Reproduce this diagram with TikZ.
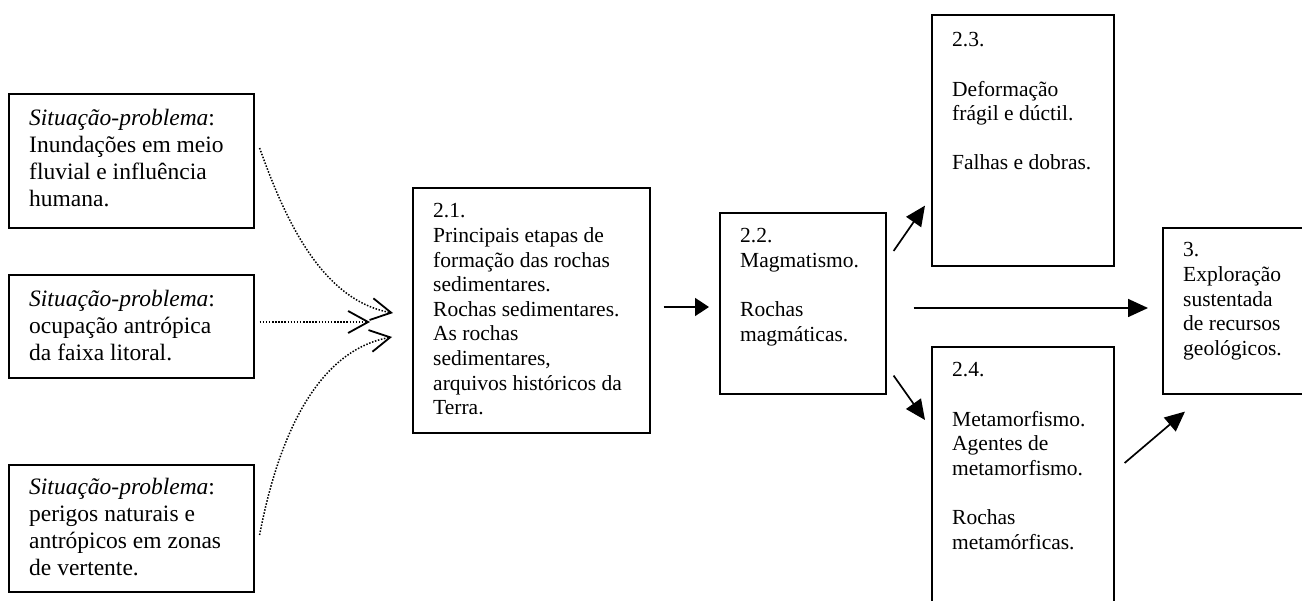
\documentclass[tikz,border=0pt]{standalone}
\usepackage{fontspec}
\setmainfont{Liberation Serif}
\usetikzlibrary{arrows.meta,calc}
\tikzset{
  box/.style={draw, line width=1.6pt, rectangle, anchor=north west, inner sep=0pt},
  bigtxt/.style={anchor=base west, inner sep=0pt, font=\fontsize{23.5}{26.7}\selectfont},
  smalltxt/.style={anchor=base west, inner sep=0pt, font=\fontsize{21.5}{24.6}\selectfont},
  dotarrow/.style={line width=1.5pt, dash pattern=on 1.5pt off 1.6pt,
    -{Straight Barb[length=20pt, width=22pt, line width=1.8pt]}},
  solidarrow/.style={line width=1.7pt, -{Triangle[length=20pt, width=18pt]}},
  shortarrow/.style={line width=1.7pt, -{Triangle[length=14pt, width=18pt]}}
}
\newcommand{\lines}[1]{\parbox[t]{300pt}{\raggedright #1}}
\begin{document}
\begin{tikzpicture}[x=1pt,y=-1pt]
\useasboundingbox (0,0) rectangle (1302,601);
\clip (0,0) rectangle (1302,601);
% boxes
\node[box, minimum width=245, minimum height=134] (sA) at (8,93) {};
\node[box, minimum width=245, minimum height=103] (sB) at (8,274) {};
\node[box, minimum width=245, minimum height=127] (sC) at (8,464) {};
\node[box, minimum width=237, minimum height=245] (b21) at (412,187) {};
\node[box, minimum width=166, minimum height=181] (b22) at (719,212) {};
\node[box, minimum width=182, minimum height=251] (b23) at (931,14) {};
\node[box, minimum width=182, minimum height=300] (b24) at (931,346) {};
\node[box, minimum width=200, minimum height=166] (b3) at (1162,227) {};
% texts
\node[bigtxt] (tA) at (29,126) {\lines{\textit{Situação-problema}:\\Inundações em meio\\fluvial e influência\\humana.}};
\node[bigtxt] (tB) at (29,307) {\lines{\textit{Situação-problema}:\\ocupação antrópica\\da faixa litoral.}};
\node[bigtxt] (tC) at (29,495) {\lines{\textit{Situação-problema}:\\perigos naturais e\\antrópicos em zonas\\de vertente.}};
\node[smalltxt] (t21) at (433,218) {\lines{2.1.\\Principais etapas de\\formação das rochas\\sedimentares.\\Rochas sedimentares.\\As rochas\\sedimentares,\\arquivos históricos da\\Terra.}};
\node[smalltxt] (t22) at (740,243) {\lines{2.2.\\Magmatismo.\\[24.6pt]Rochas\\magmáticas.}};
\node[smalltxt] (t23) at (952,47) {\lines{2.3.\\[24.6pt]Deformação\\frágil e dúctil.\\[24.6pt]Falhas e dobras.}};
\node[smalltxt] (t24) at (952,377) {\lines{2.4.\\[24.6pt]Metamorfismo.\\Agentes de\\metamorfismo.\\[24.6pt]Rochas\\metamórficas.}};
\node[smalltxt] (t3) at (1183,257) {\lines{3.\\Exploração\\sustentada\\de recursos\\geológicos.}};
% dotted connectors
\draw[dotarrow] ([shift={(5,55)}]sA.north east) .. controls +(24,67) and +(-73,-13) .. ([shift={(-19,126)}]b21.north west);
\draw[dotarrow] ([shift={(5,48)}]sB.north east) -- ([shift={(-42,135)}]b21.north west);
\draw[dotarrow] ([shift={(5,71)}]sC.north east) .. controls +(20,-105) and +(-72,13) .. ([shift={(-20,150)}]b21.north west);
% solid connectors
\draw[shortarrow] ([shift={(13,120)}]b21.north east) -- ([shift={(-10,95)}]b22.north west);
\draw[solidarrow] ([shift={(7,39)}]b22.north east) -- ([shift={(-6,-61)}]b23.south west);
\draw[solidarrow] ([shift={(27,96)}]b22.north east) -- ([shift={(-14,81)}]b3.north west);
\draw[solidarrow] ([shift={(7,-19)}]b22.south east) -- ([shift={(-6,74)}]b24.north west);
\draw[solidarrow] ([shift={(10,117)}]b24.north east) -- ([shift={(23,17)}]b3.south west);
\end{tikzpicture}
\end{document}
